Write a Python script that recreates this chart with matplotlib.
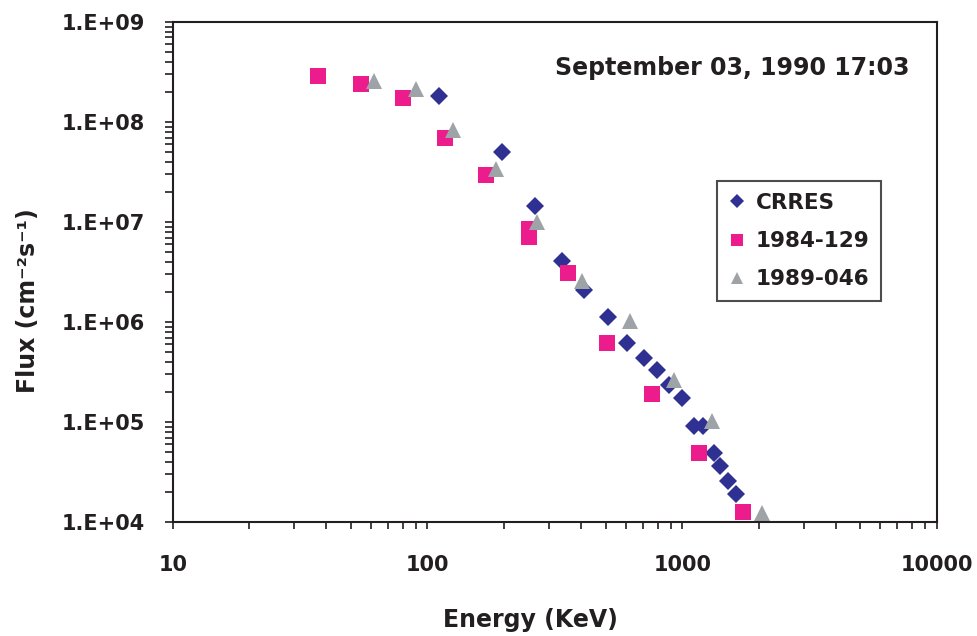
import math
import matplotlib
matplotlib.use("Agg")
import matplotlib.pyplot as plt
from matplotlib.ticker import LogLocator, FixedLocator, FuncFormatter, NullFormatter

plt.rcParams["font.family"] = ["DejaVu Sans"]
plt.rcParams["font.weight"] = "bold"

# CRRES (diamonds)
crres_e = [111, 196, 264, 338, 412, 511, 607, 705, 793, 884, 998, 1110, 1207, 1330, 1405, 1507, 1620]
crres_f = [1.8e8, 5.0e7, 1.45e7, 4.1e6, 2.1e6, 1.13e6, 6.1e5, 4.4e5, 3.3e5, 2.35e5, 1.72e5,
           9.1e4, 9.1e4, 4.9e4, 3.6e4, 2.6e4, 1.9e4]

# 1984-129 (squares)
lanl84_e = [37.2, 54.6, 80.5, 117, 169, 250, 250, 355, 506, 762, 1167, 1726]
lanl84_f = [2.87e8, 2.38e8, 1.73e8, 6.9e7, 2.93e7, 8.6e6, 7.1e6, 3.07e6, 6.1e5, 1.9e5, 4.9e4, 1.25e4]

# 1989-046 (triangles)
lanl89_e = [61.6, 90.2, 126, 185, 269, 405, 625, 925, 1313, 2055]
lanl89_f = [2.6e8, 2.12e8, 8.3e7, 3.37e7, 1.0e7, 2.57e6, 1.02e6, 2.63e5, 1.03e5, 1.24e4]

ink = "#231F20"

fig = plt.figure(figsize=(9.77, 6.36), dpi=100)
ax = fig.add_axes([0.1768, 0.1792, 0.959 - 0.1768, 0.9654 - 0.1792])

ax.plot(crres_e, crres_f, "D", color="#2E3192", markersize=9.5, markeredgewidth=0, label="CRRES")
ax.plot(lanl84_e, lanl84_f, "s", color="#EC1C8C", markersize=12, markeredgewidth=0, label="1984-129")
ax.plot(lanl89_e, lanl89_f, "^", color="#9EA3A8", markersize=11, markeredgewidth=0, label="1989-046")

ax.set_xscale("log")
ax.set_yscale("log")
ax.set_xlim(10, 10000)
ax.set_ylim(1e4, 1e9)

ax.xaxis.set_major_locator(FixedLocator([10, 100, 1000, 10000]))
ax.xaxis.set_major_formatter(FuncFormatter(lambda v, p: f"{int(round(v))}"))
ax.xaxis.set_minor_locator(LogLocator(base=10, subs=range(2, 10)))
ax.xaxis.set_minor_formatter(NullFormatter())
ax.yaxis.set_major_locator(FixedLocator([1e4, 1e5, 1e6, 1e7, 1e8, 1e9]))
ax.yaxis.set_major_formatter(FuncFormatter(lambda v, p: "1.E+%02d" % round(math.log10(v))))
ax.yaxis.set_minor_locator(LogLocator(base=10, subs=range(2, 10)))
ax.yaxis.set_minor_formatter(NullFormatter())

for s in ax.spines.values():
    s.set_linewidth(1.5)
    s.set_color(ink)
ax.tick_params(which="both", direction="out", top=False, right=False, width=1.2, color=ink)
ax.tick_params(axis="y", which="both", length=6, pad=14, labelsize=15)
ax.tick_params(axis="x", which="both", length=5, pad=19, labelsize=15)
for lab in ax.get_xticklabels() + ax.get_yticklabels():
    lab.set_fontweight("bold")
    lab.set_color(ink)

ax.set_xlabel("Energy (KeV)", fontsize=17, fontweight="bold", color=ink, va="center")
ax.set_ylabel("Flux (cm\u207b\u00b2s\u207b\u00b9)", fontsize=17, fontweight="bold", color=ink, va="center")
ax.xaxis.set_label_coords(0.4675, -0.196)
ax.yaxis.set_label_coords(-0.189, 0.442)

ax.text(0.9647, 0.908, "September 03, 1990 17:03", transform=ax.transAxes, ha="right", va="center",
        fontsize=17, fontweight="bold", color=ink)

leg = ax.legend(loc="upper left", bbox_to_anchor=(0.7118, 0.682), fontsize=15.5, frameon=True,
                fancybox=False, edgecolor=ink, borderpad=0.55, labelspacing=0.85,
                handlelength=0.8, handletextpad=0.45, markerscale=0.75, borderaxespad=0)
leg.get_frame().set_linewidth(1.5)
for t in leg.get_texts():
    t.set_fontweight("bold")
    t.set_color(ink)

fig.savefig("out.png", dpi=100)
